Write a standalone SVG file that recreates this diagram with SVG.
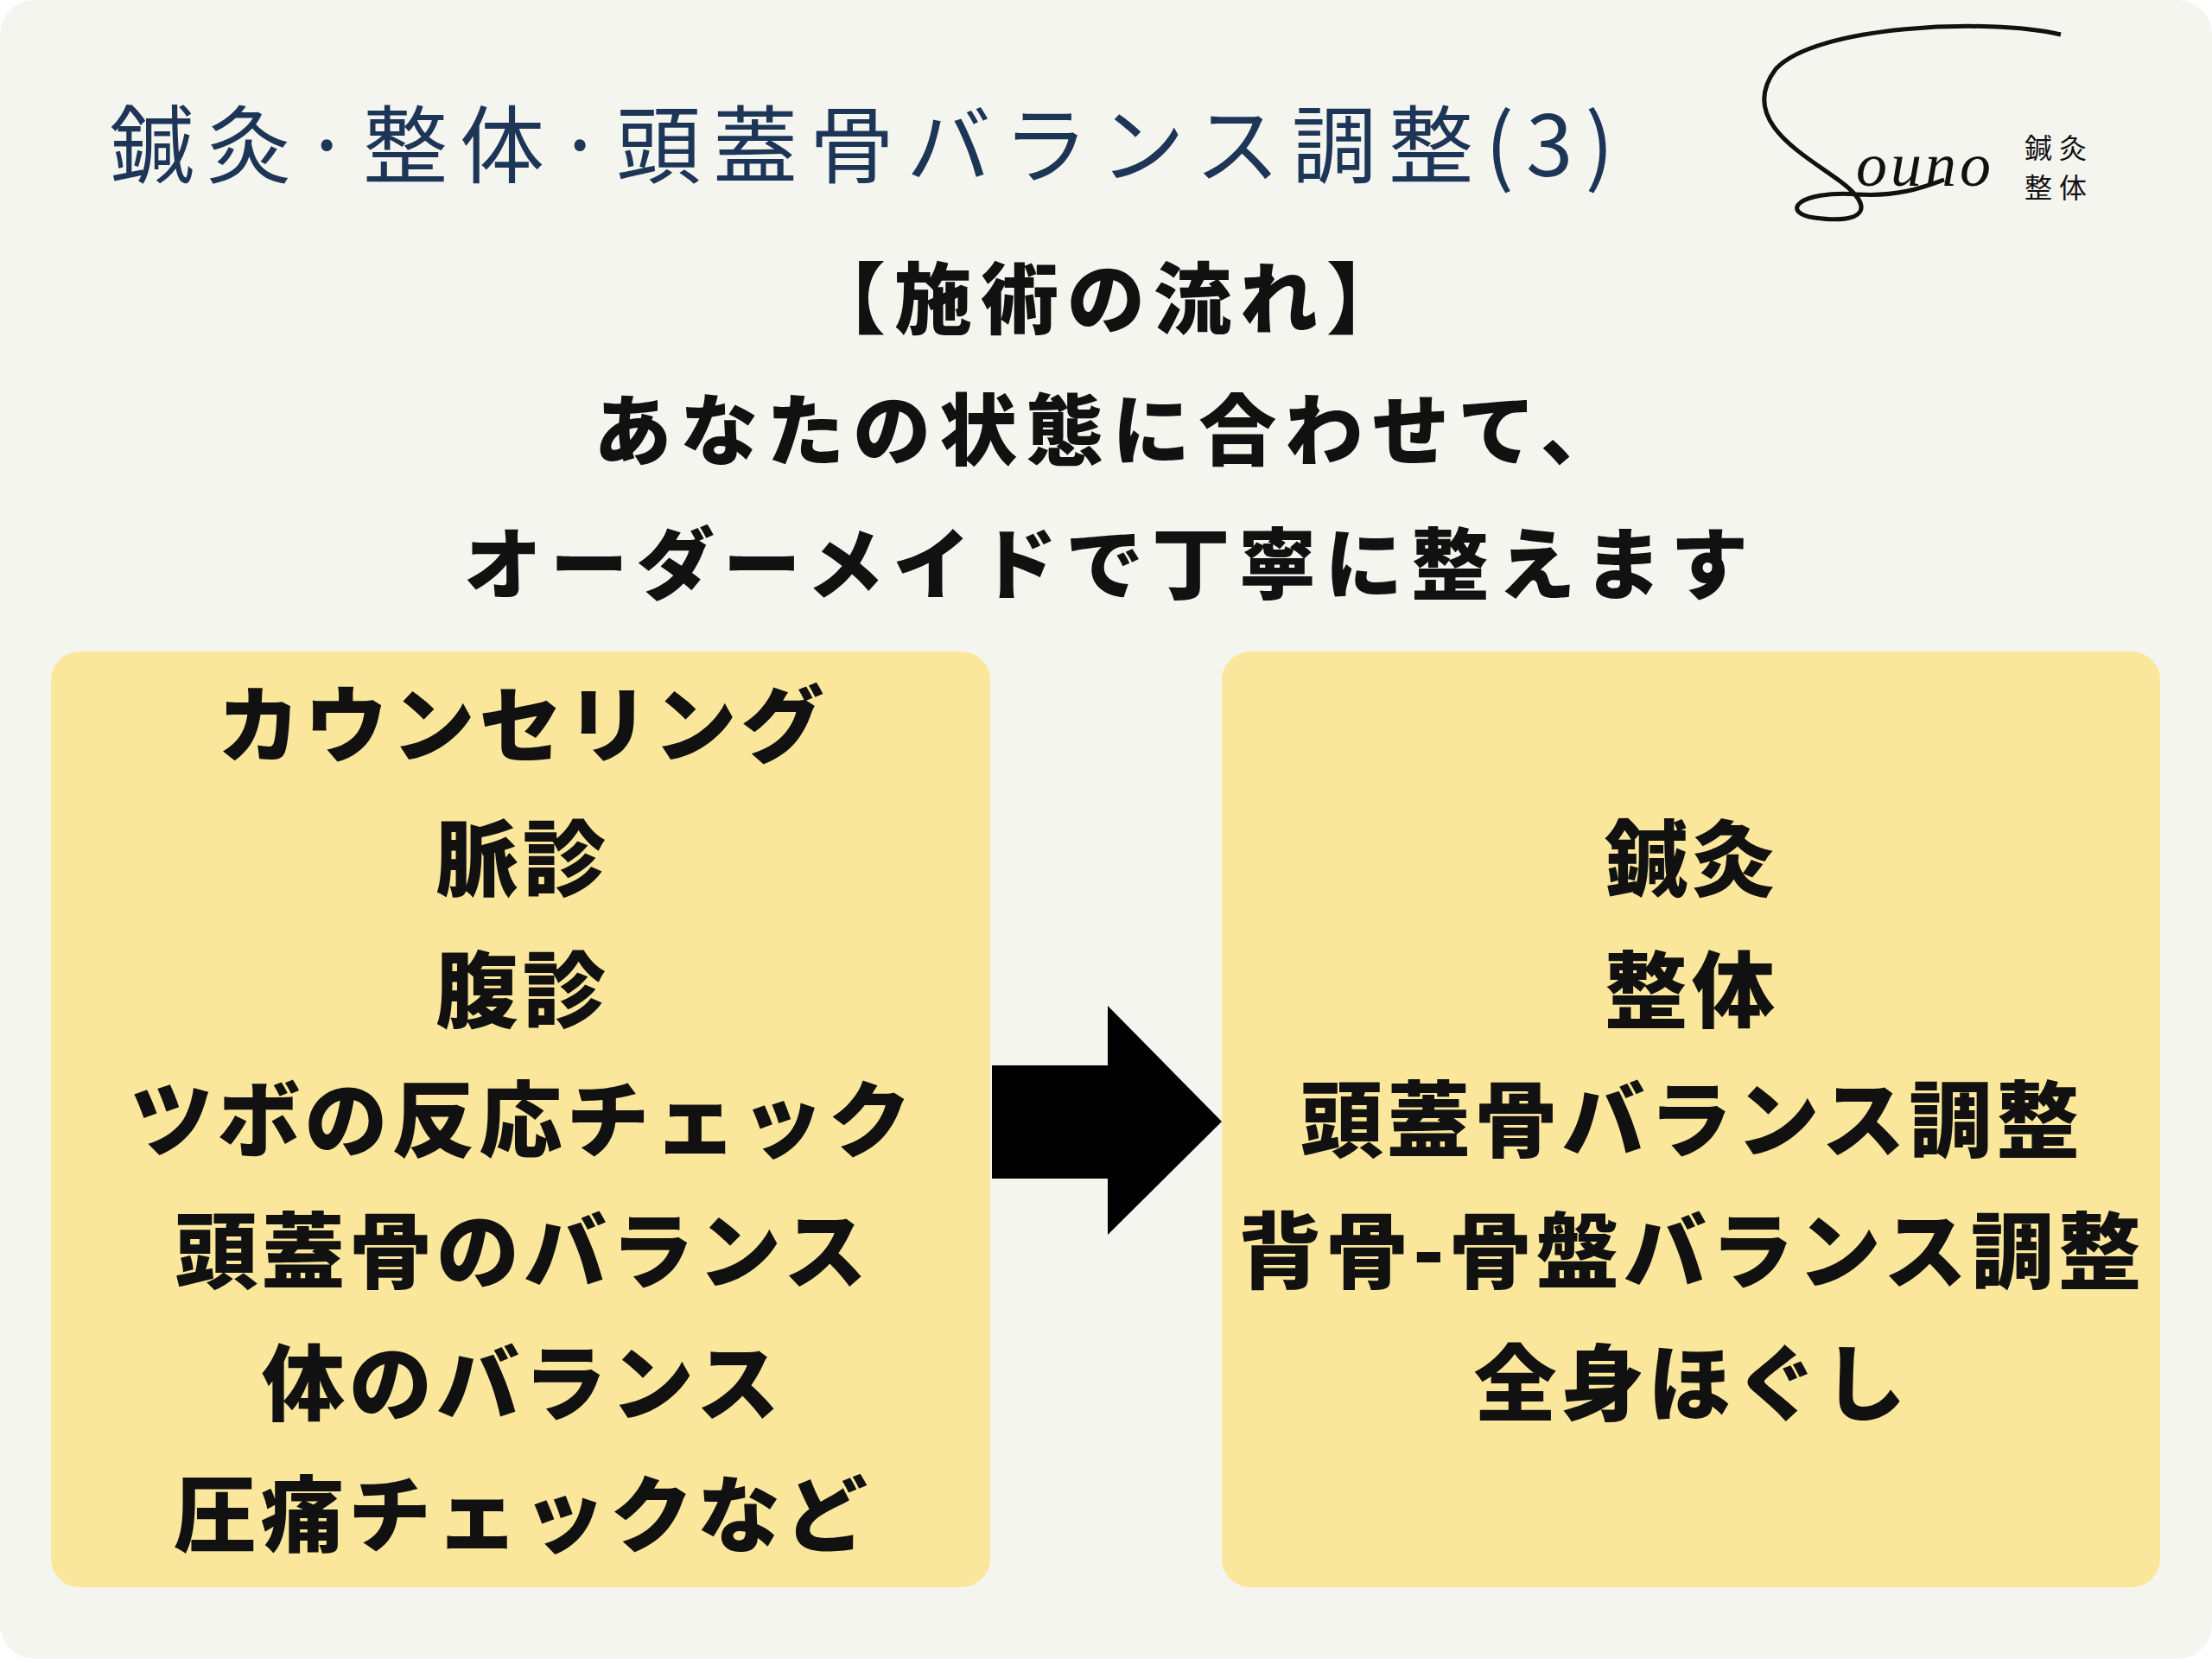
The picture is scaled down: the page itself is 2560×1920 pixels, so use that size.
<svg xmlns="http://www.w3.org/2000/svg" width="2560" height="1920" viewBox="0 0 2560 1920">
<style>
.t{font-family:"Noto Sans CJK JP",sans-serif;font-weight:900;fill:#111;text-anchor:middle}
.b{font-size:96px;letter-spacing:5px}
.h{font-size:90px;letter-spacing:10px}
.box{fill:#fae79b}
</style>
<rect width="2560" height="1920" rx="40" fill="#f5f5f0"/>
<g id="title"><text x="127" y="204" font-family="Noto Sans CJK JP,sans-serif" font-weight="400" font-size="98" letter-spacing="14" fill="#1d3557">鍼灸·整体·頭蓋骨バランス調整(3)</text></g>
<g id="logo">
<path d="M2385,40 C2300,20 2100,30 2055,80 C2010,140 2090,180 2130,210 C2170,240 2160,260 2100,252 C2060,246 2080,220 2150,225 C2200,228 2230,215 2250,208" fill="none" stroke="#111" stroke-width="5"/>
<text x="2148" y="215" font-family="Liberation Serif,serif" font-style="italic" font-size="72" letter-spacing="4" fill="#111">ouno</text>
<text x="2343" y="183" font-family="Noto Sans CJK JP,sans-serif" font-size="32" letter-spacing="8" fill="#111">鍼灸</text>
<text x="2343" y="229" font-family="Noto Sans CJK JP,sans-serif" font-size="32" letter-spacing="8" fill="#111">整体</text>
</g>
<g id="heading">
<text class="t h" x="1285" y="379">【施術の流れ】</text>
<text class="t h" x="1285" y="531">あなたの状態に合わせて、</text>
<text class="t h" x="1285" y="686">オーダーメイドで丁寧に整えます</text>
</g>
<g id="left">
<rect class="box" x="59" y="754" width="1087" height="1083" rx="33"/>
<text class="t b" x="605" y="874">カウンセリング</text>
<text class="t b" x="605" y="1029">脈診</text>
<text class="t b" x="605" y="1181">腹診</text>
<text class="t b" x="605" y="1331">ツボの反応チェック</text>
<text class="t b" x="605" y="1483">頭蓋骨のバランス</text>
<text class="t b" x="605" y="1636">体のバランス</text>
<text class="t b" x="605" y="1788">圧痛チェックなど</text>
</g>
<g id="right">
<rect class="box" x="1414" y="754" width="1086" height="1083" rx="33"/>
<text class="t b" x="1958" y="1029">鍼灸</text>
<text class="t b" x="1958" y="1181">整体</text>
<text class="t b" x="1958" y="1331">頭蓋骨バランス調整</text>
<text class="t b" x="1958" y="1483">背骨-骨盤バランス調整</text>
<text class="t b" x="1958" y="1636">全身ほぐし</text>
</g>
<g id="connectors">
<path d="M1148,1233 H1282 V1164 L1414,1298 L1282,1429 V1364 H1148 Z" fill="#000"/>
</g>
</svg>
